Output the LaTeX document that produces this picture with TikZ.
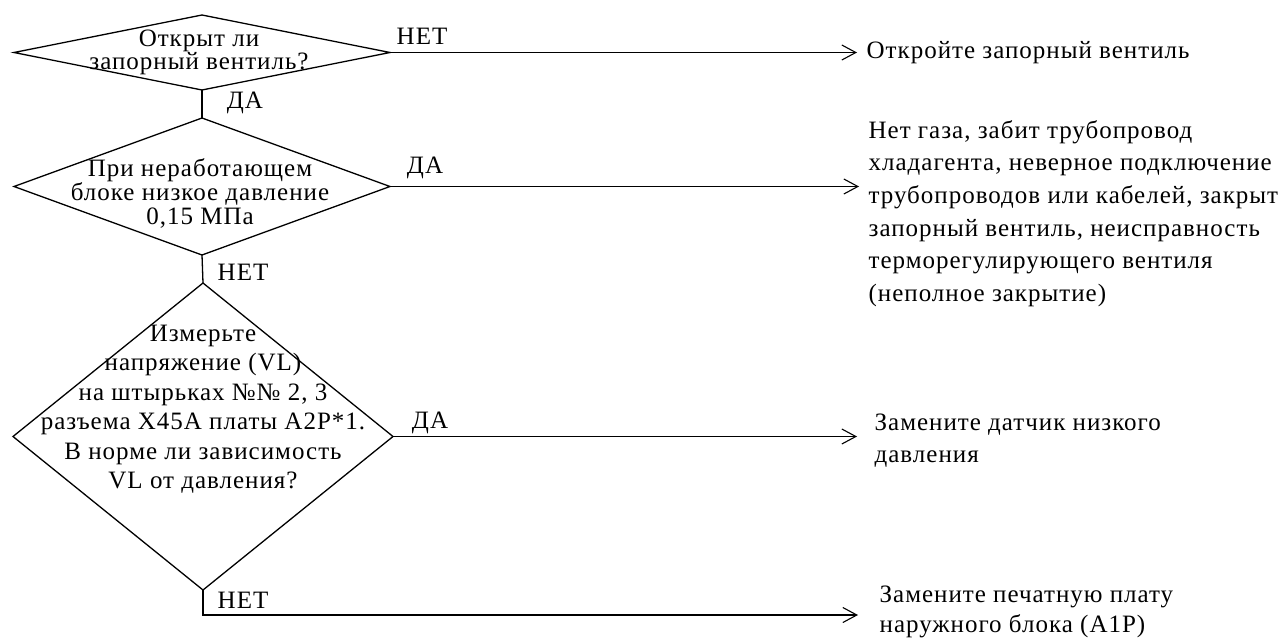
\documentclass[tikz,border=0pt]{standalone}
\usepackage{fontspec}
\setmainfont[LetterSpace=4]{Liberation Serif}
\usetikzlibrary{shapes.geometric,arrows.meta,calc}
\begin{document}
\begin{tikzpicture}[x=1pt,y=-1pt,
  line width=1.3pt,
  dia/.style={draw, diamond, inner sep=0pt, outer sep=0pt, line width=1.3pt},
  qtext/.style={align=center, inner sep=0pt},
  lab/.style={inner sep=0pt, font=\fontsize{25}{24}\selectfont},
  res/.style={align=left, inner sep=0pt, anchor=west},
  arr/.style={-{Straight Barb[length=14pt,width=15pt,line width=1.1pt]}, line width=1.3pt}
]
\useasboundingbox (0,0) rectangle (1284,637);

% diamonds
\node[dia, minimum width=376pt, minimum height=75pt] (d1) at (202,52.5) {};
\node[dia, minimum width=376pt, minimum height=137pt] (d2) at (202,186.5) {};
\node[dia, minimum width=380pt, minimum height=307pt] (d3) at (203,436.5) {};

% diamond texts
\node[qtext, font=\fontsize{25}{21}\selectfont] (q1) at (199,52.5) {Открыт ли\\запорный вентиль?};
\node[qtext, font=\fontsize{25}{24}\selectfont] (q2) at (200,193) {При неработающем\\блоке низкое давление\\0,15 МПа};
\node[qtext, font=\fontsize{25}{29.5}\selectfont] (q3) at (203,409) {Измерьте\\напряжение (VL)\\на штырьках №№ 2, 3\\разъема X45A платы A2P*1.\\В норме ли зависимость\\VL от давления?};

% results
\node[res, font=\fontsize{25}{24}\selectfont] (t1) at (866,53) {Откройте запорный вентиль};
\node[res, font=\fontsize{25}{32.6}\selectfont] (t2) at (868,213.5) {Нет газа, забит трубопровод\\хладагента, неверное подключение\\трубопроводов или кабелей, закрыт\\запорный вентиль, неисправность\\терморегулирующего вентиля\\(неполное закрытие)};
\node[res, font=\fontsize{25}{32}\selectfont] (t3) at (874,441) {Замените датчик низкого\\давления};
\node[res, font=\fontsize{25}{30}\selectfont] (t4) at (879,612) {Замените печатную плату\\наружного блока (A1P)};

% connectors
\draw (d1.south) -- (d2.north);
\draw (d2.south) -- (d3.north);
\coordinate (k) at ($(d3.south)+(0,25)$);
\draw[arr] (d1.east) -- ($(d1.east -| t1.west)+(-9,0)$);
\draw[arr] (d2.east) -- ($(d2.east -| t2.west)+(-9,0)$);
\draw[arr] (d3.east) -- ($(d3.east -| t3.west)+(-17,0)$);
\draw[arr] (d3.south) -- (k) -- ($(k -| t4.west)+(-21,0)$);

% labels
\node[lab] (l1) at (422,36) {НЕТ};
\node[lab] (l2) at (245,103) {ДА};
\node[lab] (l3) at (425,168) {ДА};
\node[lab] (l4) at (243,272) {НЕТ};
\node[lab] (l5) at (430,423) {ДА};
\node[lab] (l6) at (243,600) {НЕТ};
\end{tikzpicture}
\end{document}
